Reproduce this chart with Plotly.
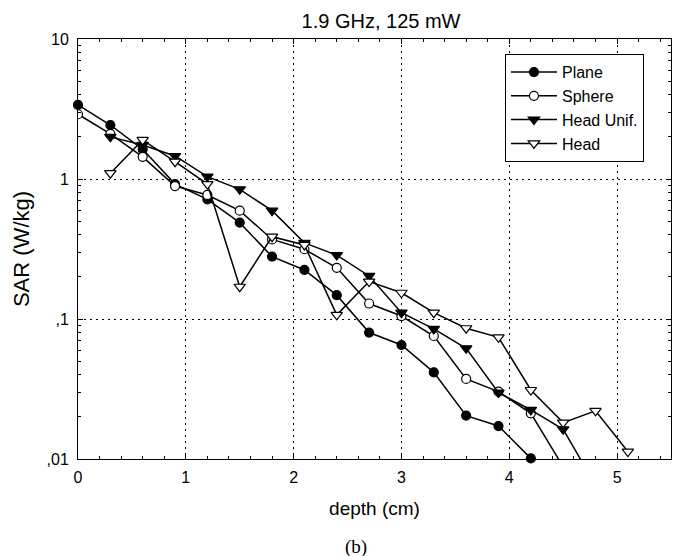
import plotly.graph_objects as go

# SAR versus depth, 1.9 GHz at 125 mW, for four phantom models
depth_plane = [0.0, 0.3, 0.6, 0.9, 1.2, 1.5, 1.8, 2.1, 2.4, 2.7, 3.0, 3.3, 3.6, 3.9, 4.2]
sar_plane = [3.38, 2.43, 1.63, 0.92, 0.716, 0.488, 0.279, 0.224, 0.148, 0.080,
             0.0652, 0.0416, 0.0204, 0.0172, 0.0101]

depth_sphere = [0.0, 0.3, 0.6, 0.9, 1.2, 1.5, 1.8, 2.1, 2.4, 2.7, 3.0, 3.3, 3.6, 3.9, 4.2, 4.5]
sar_sphere = [2.90, 2.10, 1.44, 0.89, 0.769, 0.594, 0.37, 0.315, 0.232, 0.129,
              0.105, 0.0756, 0.0373, 0.0303, 0.0212, 0.0088]

depth_head_unif = [0.3, 0.6, 0.9, 1.2, 1.5, 1.8, 2.1, 2.4, 2.7, 3.0, 3.3, 3.6, 3.9, 4.2, 4.5, 4.8]
sar_head_unif = [2.0, 1.75, 1.46, 1.04, 0.844, 0.594, 0.35, 0.286, 0.203, 0.111,
                 0.0849, 0.0617, 0.0298, 0.0224, 0.0163, 0.0065]

depth_head = [0.3, 0.6, 0.9, 1.2, 1.5, 1.8, 2.1, 2.4, 2.7, 3.0, 3.3, 3.6, 3.9, 4.2, 4.5, 4.8, 5.1]
sar_head = [1.10, 1.90, 1.33, 0.92, 0.170, 0.387, 0.338, 0.107, 0.185, 0.154,
            0.111, 0.0859, 0.074, 0.0311, 0.0182, 0.0221, 0.0113]

x_range = [0, 5.5]
x_tickvals = [0, 1, 2, 3, 4, 5]
y_range = [-2, 1]
y_tickvals = [0.01, 0.1, 1, 10]
y_ticktext = [",01", ",1", "1", "10"]
y_minor = [m * 10 ** e for e in (-2, -1, 0) for m in range(2, 10)]

FONT = "Liberation Sans, Arial, sans-serif"

fig = go.Figure()

series = [
    ("Plane", depth_plane, sar_plane, "circle", "black", 9, False),
    ("Sphere", depth_sphere, sar_sphere, "circle", "white", 9, True),
    ("Head Unif.", depth_head_unif, sar_head_unif, "triangle-down", "black", 10, True),
    ("Head", depth_head, sar_head, "triangle-down", "white", 10, False),
]
for name, xs, ys, sym, fill, size, clip in series:
    fig.add_trace(go.Scatter(
        x=xs, y=ys, name=name, mode="lines+markers",
        line=dict(color="black", width=1.5),
        marker=dict(symbol=sym, size=size, color=fill,
                    line=dict(color="black", width=1.2)),
        cliponaxis=clip,
    ))

# empty trace so the top/right tick axes get drawn
fig.add_trace(go.Scatter(x=[], y=[], xaxis="x2", yaxis="y2",
                         showlegend=False, hoverinfo="skip"))

fig.update_layout(
    width=673, height=556,
    margin=dict(l=78, r=2, t=39, b=97),
    paper_bgcolor="white", plot_bgcolor="white",
    font=dict(family=FONT, color="black", size=15),
    title=dict(text="1.9 GHz, 125 mW", x=0.511, xref="paper", xanchor="center",
               y=1 - 21 / 556, yref="container", yanchor="middle",
               font=dict(size=20, family=FONT)),
    showlegend=True,
    legend=dict(x=0.72, y=0.964, xanchor="left", yanchor="top",
                bgcolor="white", bordercolor="black", borderwidth=1,
                font=dict(size=16, family=FONT), tracegroupgap=0,
                itemwidth=46),
)

tick_style = dict(ticks="inside", ticklen=5, tickcolor="black")
grid_style = dict(showgrid=True, gridcolor="black", griddash="2px,4px", gridwidth=1)

fig.update_layout(
    xaxis=dict(
        range=x_range, tickvals=x_tickvals,
        showline=True, linecolor="black", linewidth=1, mirror=True,
        minor=dict(dtick=0.2, tick0=0, ticks="inside", ticklen=3,
                   tickcolor="black", showgrid=False),
        zeroline=False, tickfont=dict(size=16), ticklabelstandoff=4,
        title=dict(text="depth (cm)", font=dict(size=19), standoff=16),
        **tick_style, **grid_style,
    ),
    yaxis=dict(
        type="log", range=y_range, tickvals=y_tickvals, ticktext=y_ticktext,
        showline=True, linecolor="black", linewidth=1, mirror=True,
        minor=dict(tickmode="array", tickvals=y_minor, ticks="inside", ticklen=3,
                   tickcolor="black", showgrid=False),
        zeroline=False, tickfont=dict(size=16), ticklabelstandoff=5,
        title=dict(text="SAR (W/kg)", font=dict(size=22), standoff=10),
        **tick_style, **grid_style,
    ),
    xaxis2=dict(
        overlaying="x", side="top", anchor="y", range=x_range, tickvals=x_tickvals,
        showticklabels=False, showgrid=False, zeroline=False, showline=False,
        minor=dict(dtick=0.2, tick0=0, ticks="inside", ticklen=3,
                   tickcolor="black", showgrid=False),
        **tick_style,
    ),
    yaxis2=dict(
        overlaying="y", side="right", anchor="x", type="log", range=y_range,
        tickvals=y_tickvals, showticklabels=False, showgrid=False,
        zeroline=False, showline=False,
        minor=dict(tickmode="array", tickvals=y_minor, ticks="inside", ticklen=3,
                   tickcolor="black", showgrid=False),
        **tick_style,
    ),
)

# panel caption under the axes
fig.add_annotation(text="(b)", x=(356 - 78) / 593, y=(459 - 547) / 420,
                   xref="paper", yref="paper", xanchor="center", yanchor="middle",
                   showarrow=False,
                   font=dict(family="Liberation Serif, Times New Roman, serif", size=19))

fig.write_html("out.html")
